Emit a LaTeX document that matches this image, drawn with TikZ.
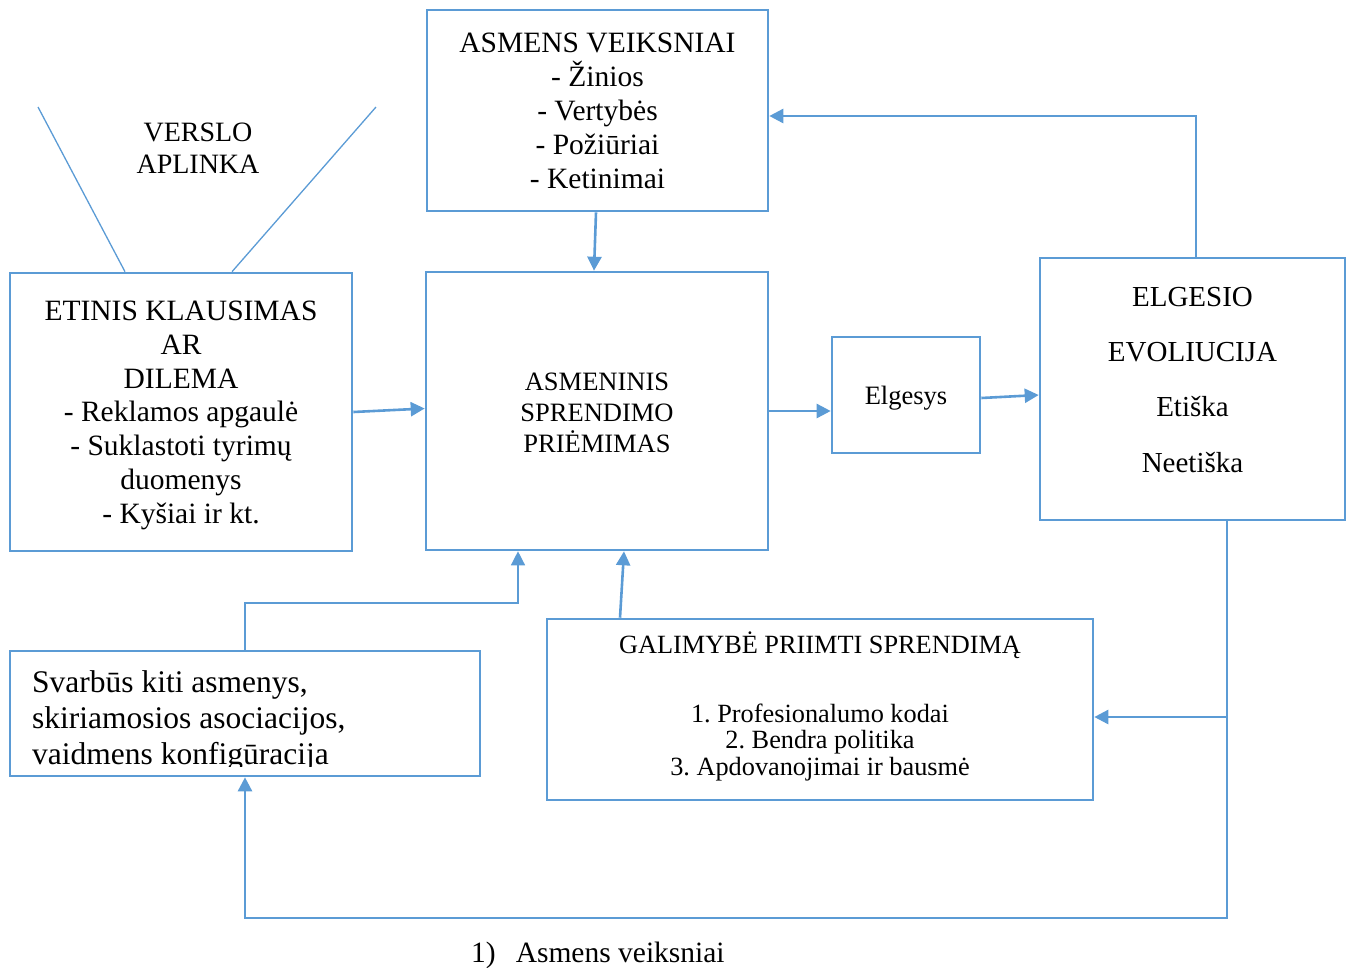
\documentclass[tikz,border=0pt]{standalone}
\usepackage{fontspec}
\setmainfont{Liberation Serif}
\usetikzlibrary{arrows.meta,calc}
\definecolor{lblue}{HTML}{5B9BD5}
\begin{document}
\frenchspacing
\begin{tikzpicture}[x=1pt,y=-1pt,
  box/.style={draw=lblue, line width=2.6pt, rectangle, inner sep=0pt},
  txt/.style={inner sep=0pt, anchor=base, align=center, text=black},
  arr/.style={draw=lblue, line width=2.6pt, -{Triangle[length=14pt,width=14pt]}},
  thinarr/.style={draw=lblue, line width=1.4pt, -{Triangle[length=14pt,width=14pt]}},
  thinline/.style={draw=lblue, line width=1.3pt}]
\useasboundingbox (0,0) rectangle (1352,967);

% boxes
\node[box, minimum width=341pt, minimum height=201pt] (av) at (597.5,110.5) {};
\node[box, minimum width=342pt, minimum height=278pt] (etin) at (181,412) {};
\node[box, minimum width=342pt, minimum height=278pt] (asp) at (597,411) {};
\node[box, minimum width=148pt, minimum height=116pt] (elg) at (906,395) {};
\node[box, minimum width=305pt, minimum height=262pt] (evo) at (1192.5,389) {};
\node[box, minimum width=546pt, minimum height=181pt] (gal) at (820,709.5) {};
\node[box, minimum width=470pt, minimum height=125pt] (svarb) at (245,713.5) {};

% texts (each placed at the baseline of its last line)
\node[txt, font=\fontsize{29.5}{33.8}\selectfont] (avt) at (597.5,188)
  {ASMENS VEIKSNIAI\\- Žinios\\- Vertybės\\- Požiūriai\\- Ketinimai};
\node[txt, font=\fontsize{28}{32.5}\selectfont] (verslo) at (198,173.5)
  {VERSLO\\APLINKA};
\node[txt, font=\fontsize{29.5}{33.7}\selectfont] (etint) at (181,523)
  {ETINIS KLAUSIMAS\\AR\\DILEMA\\- Reklamos apgaulė\\- Suklastoti tyrimų\\duomenys\\- Kyšiai ir kt.};
\node[txt, font=\fontsize{26.5}{31}\selectfont] (aspt) at (597,452)
  {ASMENINIS\\SPRENDIMO\\PRIĖMIMAS};
\node[txt, font=\fontsize{26.5}{31}\selectfont] (elgt) at (906,404) {Elgesys};
\node[txt, font=\fontsize{29}{55.3}\selectfont] (evot) at (1192.5,472)
  {ELGESIO\\EVOLIUCIJA\\Etiška\\Neetiška};
\node[txt, font=\fontsize{26.3}{26.5}\selectfont] (galt) at (820,775)
  {GALIMYBĖ PRIIMTI SPRENDIMĄ\\[42.5pt]1. Profesionalumo kodai\\2. Bendra politika\\3. Apdovanojimai ir bausmė};
\begin{scope}
  \clip (12,653) rectangle (478,766);
  \node[txt, anchor=base west, align=left, font=\fontsize{31.5}{36}\selectfont] (svt) at (32,764)
    {Svarbūs kiti asmenys,\\skiriamosios asociacijos,\\vaidmens konfigūracija};
\end{scope}
\node[txt, anchor=base west, font=\fontsize{29.5}{32}\selectfont] (foot) at (471,962)
  {1)\hspace{20pt}Asmens veiksniai};

% environment lines
\coordinate (vl) at (38,107);
\coordinate (vr) at (376,107);
\draw[thinline] (vl) -- ([xshift=-56pt]etin.north);
\draw[thinline] (vr) -- ([xshift=51pt]etin.north);

% connectors
\draw[arr] ([xshift=-1.5pt]av.south) -- ([xshift=-3pt]asp.north);
\draw[arr] ([xshift=3.5pt]evo.north) |- ([yshift=-5.5pt]av.east);
\draw[arr] (etin.east) -- ([yshift=2.5pt]asp.west);
\draw[arr] (asp.east) -- (asp.east -| elg.west);
\draw[arr] ([yshift=-3pt]elg.east) -- ([yshift=-6pt]evo.west);
\coordinate (cbot) at (1227,918);
\coordinate (cbr) at (1227,717);
\draw[arr] ([xshift=34.5pt]evo.south) -- (cbot) -| (svarb.south);
\draw[arr] (cbr) -- (cbr -| gal.east);
\coordinate (cmid) at (518,603);
\draw[thinarr] (svarb.north) |- (cmid) -- (cmid |- asp.south);
\draw[arr] ([xshift=-200pt]gal.north) -- ([xshift=27pt]asp.south);
\end{tikzpicture}
\end{document}
